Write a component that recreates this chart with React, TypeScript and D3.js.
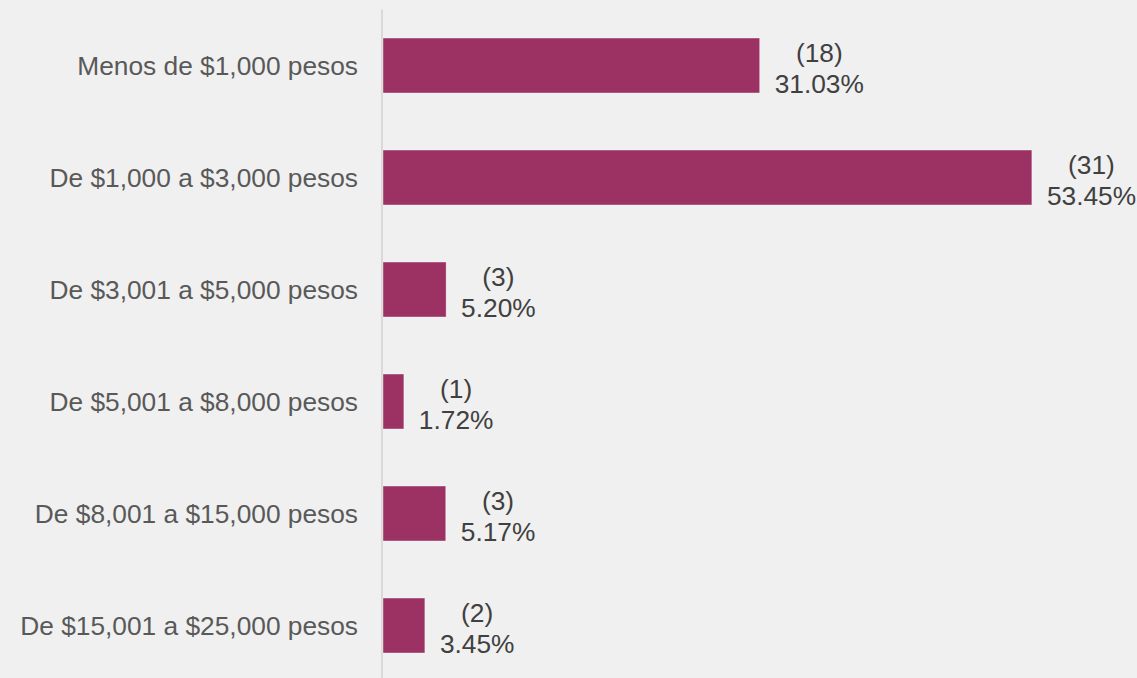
import { useMemo } from "react";
import * as d3 from "d3";

const categories = [
  "Menos de $1,000 pesos",
  "De $1,000 a $3,000 pesos",
  "De $3,001 a $5,000 pesos",
  "De $5,001 a $8,000 pesos",
  "De $8,001 a $15,000 pesos",
  "De $15,001 a $25,000 pesos",
];
const counts = [18, 31, 3, 1, 3, 2];
const percents = [31.03, 53.45, 5.2, 1.72, 5.17, 3.45];

const width = 1137;
const height = 678;
const axisX = 383;
const font = "'Liberation Sans', Arial, sans-serif";
const fontSize = 26.3;

// mide el texto con canvas para centrar las etiquetas
const measure = (txt: string) => {
  const ctx = document.createElement("canvas").getContext("2d");
  if (!ctx) return txt.length * 14;
  ctx.font = `${fontSize}px ${font}`;
  return ctx.measureText(txt).width;
};

const App = () => {
  const xScale = d3.scaleLinear().domain([0, 60]).range([axisX, axisX + 60 * 12.14]);

  const yScale = d3
    .scaleBand<string>()
    .domain(categories)
    .range([9.5, 681.5])
    .paddingInner(0.509)
    .paddingOuter(0.2545);

  const rows = useMemo(
    () =>
      categories.map((c, i) => {
        const pct = percents[i].toFixed(2) + "%";
        const cnt = `(${counts[i]})`;
        const w = Math.max(measure(pct), measure(cnt));
        return { c, pct, cnt, w, v: percents[i] };
      }),
    []
  );

  const bw = yScale.bandwidth();

  return (
    <svg
      width={width}
      height={height}
      style={{ position: "absolute", left: 0, top: 0, background: "#f0f0f0" }}
      fontFamily={font}
      fontSize={fontSize}
    >
      <rect width={width} height={height} fill="#f0f0f0" />
      <line x1={axisX - 1} x2={axisX - 1} y1={9.5} y2={height} stroke="#d9d9d9" strokeWidth={2} />
      {rows.map((r) => {
        const y0 = yScale(r.c)!;
        const cy = y0 + bw / 2;
        const x1 = xScale(r.v);
        const lx = x1 + 15 + r.w / 2;
        return (
          <g key={r.c}>
            <rect
              x={xScale(0)}
              y={y0}
              width={x1 - xScale(0)}
              height={bw}
              fill="#9b3263"
              stroke="#ffffff"
              strokeOpacity={0.5}
              strokeWidth={0.75}
            />
            <text x={axisX - 25} y={cy + 9} textAnchor="end" fill="#595959">
              {r.c}
            </text>
            <text x={lx} y={cy - 3.5} textAnchor="middle" fill="#404040">
              {r.cnt}
            </text>
            <text x={lx} y={cy + 27.5} textAnchor="middle" fill="#404040">
              {r.pct}
            </text>
          </g>
        );
      })}
    </svg>
  );
};

export default App;
